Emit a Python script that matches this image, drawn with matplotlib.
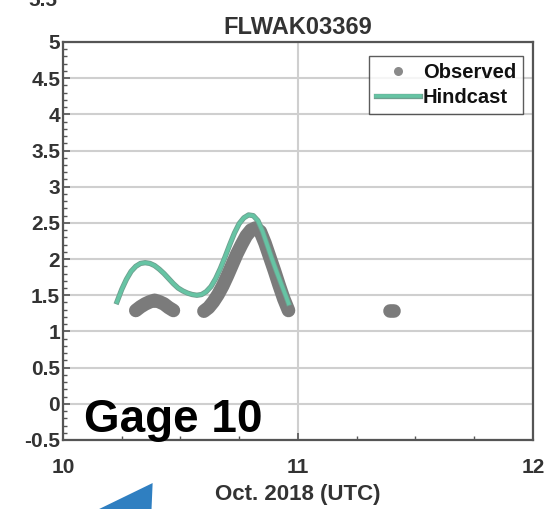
import matplotlib
matplotlib.use("Agg")
import matplotlib.pyplot as plt
import matplotlib.patheffects as pe
from matplotlib.ticker import MultipleLocator
from matplotlib.patches import Polygon

plt.rcParams['font.family'] = ['Liberation Sans', 'DejaVu Sans']
plt.rcParams['font.weight'] = 'bold'

title = "FLWAK03369"
xlabel = "Oct. 2018 (UTC)"
gage_label = "Gage 10"

obs1_x = [10.31, 10.33, 10.35, 10.37, 10.39, 10.41, 10.43, 10.45, 10.47]
obs1_y = [1.29, 1.34, 1.38, 1.41, 1.43, 1.41, 1.38, 1.33, 1.29]
obs2_x = [10.60, 10.62, 10.64, 10.66, 10.68, 10.70, 10.72, 10.74, 10.76, 10.78,
          10.80, 10.82, 10.84, 10.86, 10.88, 10.90, 10.92, 10.94, 10.96]
obs2_y = [1.28, 1.33, 1.41, 1.51, 1.63, 1.77, 1.92, 2.07, 2.20, 2.32,
          2.40, 2.43, 2.38, 2.22, 2.03, 1.84, 1.64, 1.45, 1.29]
obs3_x = [11.39, 11.41]
obs3_y = [1.28, 1.28]

hind_x = [10.23, 10.25, 10.27, 10.29, 10.31, 10.33, 10.35, 10.37, 10.39, 10.41,
          10.43, 10.45, 10.47, 10.49, 10.51, 10.53, 10.55, 10.57, 10.59, 10.61,
          10.63, 10.65, 10.67, 10.69, 10.71, 10.73, 10.75, 10.77, 10.79, 10.81,
          10.83, 10.85, 10.87, 10.89, 10.91, 10.93, 10.95, 10.96]
hind_y = [1.41, 1.58, 1.72, 1.83, 1.90, 1.94, 1.95, 1.94, 1.91, 1.86,
          1.80, 1.73, 1.66, 1.60, 1.56, 1.53, 1.51, 1.50, 1.51, 1.55,
          1.62, 1.73, 1.87, 2.03, 2.20, 2.36, 2.49, 2.57, 2.61, 2.60,
          2.53, 2.38, 2.19, 2.00, 1.82, 1.65, 1.48, 1.39]

xticks = [10, 11, 12]
yticks = [-0.5, 0, 0.5, 1, 1.5, 2, 2.5, 3, 3.5, 4, 4.5, 5]
ytick_labels = ['-0.5', '0', '0.5', '1', '1.5', '2', '2.5', '3', '3.5', '4', '4.5', '5']

fig = plt.figure(figsize=(5.51, 5.09), dpi=100)
ax = fig.add_axes([0.1143, 0.1356, 0.8527, 0.7819])

obs_color = '#7b7b7b'
# observed record: densely sampled dots that merge into a thick band
for xs, ys in [(obs1_x, obs1_y), (obs2_x, obs2_y), (obs3_x, obs3_y)]:
    ax.plot(xs, ys, color=obs_color, lw=9.8, solid_capstyle='round',
            solid_joinstyle='round', zorder=3)
ax.plot([], [], linestyle='none', marker='o', markersize=6.5, color='#8a8a8a',
        markeredgewidth=0, label='Observed')

ax.plot(hind_x, hind_y, color='#66c4a4', lw=2.6, label='Hindcast', zorder=4,
        path_effects=[pe.Stroke(linewidth=3.8, foreground='#6f9f8f'), pe.Normal()])

ax.set_xlim(10, 12)
ax.set_ylim(-0.5, 5)
ax.set_xticks(xticks)
ax.set_xticklabels([str(t) for t in xticks])
ax.set_yticks(yticks)
ax.set_yticklabels(ytick_labels)
ax.xaxis.set_minor_locator(MultipleLocator(0.25))
ax.yaxis.set_minor_locator(MultipleLocator(0.1))
ax.tick_params(which='both', direction='in', colors='#555555', labelcolor='#333333')
ax.tick_params(which='major', length=5, width=1.2, labelsize=15)
ax.tick_params(which='minor', length=3, width=1.0)
ax.tick_params(axis='x', which='major', pad=13)
ax.tick_params(axis='y', which='major', pad=2)
for lab in ax.get_xticklabels() + ax.get_yticklabels():
    lab.set_fontweight('bold')

ax.grid(True, which='major', color='#cfcfcf', lw=1.5, zorder=0)
ax.set_axisbelow(True)
for sp in ax.spines.values():
    sp.set_color('#555555')
    sp.set_linewidth(1.6)

ax.set_title(title, fontsize=17, fontweight='bold', color='#333333', pad=6)
ax.set_xlabel(xlabel, fontsize=16, fontweight='bold', color='#333333', labelpad=5)

leg = ax.legend(loc='upper right', fontsize=14.5, frameon=True, fancybox=False,
                borderpad=0.35, handlelength=2.2, handletextpad=0.15, labelspacing=0.3,
                borderaxespad=0.0, bbox_to_anchor=(0.98, 0.965))
leg.get_frame().set_edgecolor('#333333')
leg.get_frame().set_linewidth(1.0)
for t in leg.get_texts():
    t.set_fontweight('bold')
    t.set_color('#111111')

ax.text(0.045, 0.02, gage_label, transform=ax.transAxes, fontsize=33,
        fontweight='bold', color='black', ha='left', va='baseline', zorder=6)

# cut-off tick label of the panel above
fig.text(0.078, 1.0, '5.5', fontsize=15, fontweight='bold', color='#333333',
         ha='center', va='center')

# decorative blue arrow fragment at bottom-left (from neighbouring panel)
arrow = Polygon([[0.18, 0.0], [0.277, 0.051], [0.275, 0.0]], closed=True,
                transform=fig.transFigure, facecolor='#2f7fc1', edgecolor='none')
fig.patches.append(arrow)

fig.savefig('out.png', dpi=100)
